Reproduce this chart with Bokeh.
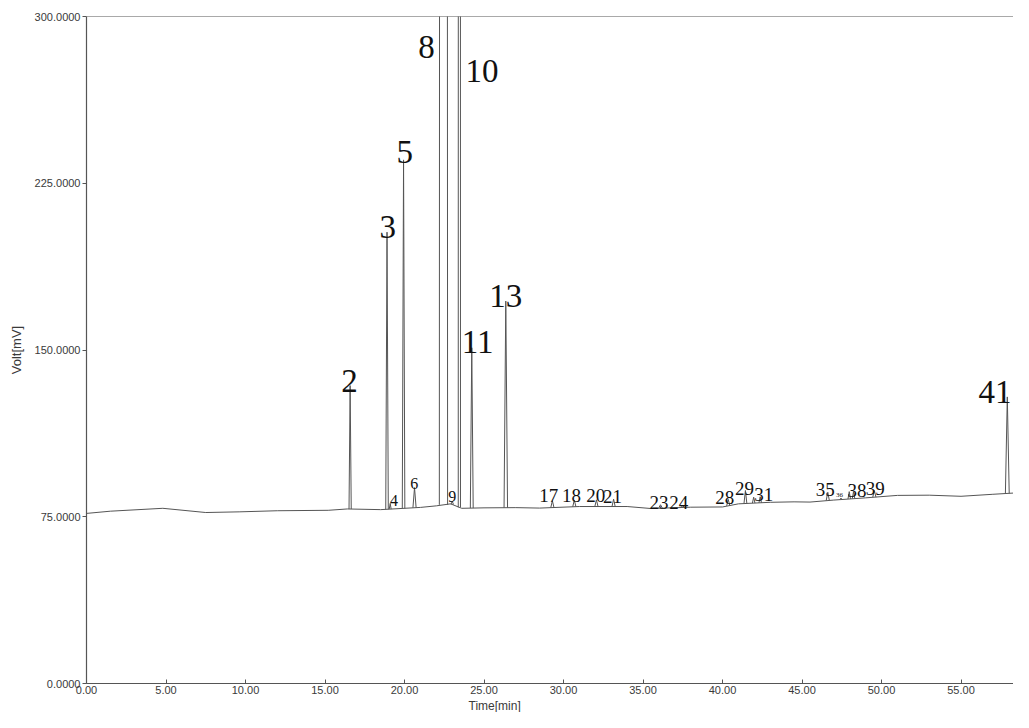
import numpy as np
from bokeh.plotting import figure
from bokeh.models import (Range1d, FixedTicker, PrintfTickFormatter, Span, ColumnDataSource,
                          Title)
from bokeh.core.properties import value
from bokeh.embed import file_html
from bokeh.resources import INLINE

# ---- data ----
base_time = [0, 1.5, 4.8, 7.5, 9.6, 12, 15.2, 16.4, 18.5, 21, 22, 22.9, 23.6, 25, 27, 28.5,
             31, 34, 35.5, 38, 40, 41, 43, 44.5, 45.5, 47, 49, 51, 53, 55, 57, 58.64]
base_volt = [76.5, 77.5, 78.8, 76.9, 77.2, 77.7, 77.9, 78.5, 78.2, 79.2, 79.9, 80.8, 78.8, 79.0,
             79.1, 78.9, 79.6, 79.6, 78.7, 79.3, 79.4, 80.8, 81.5, 81.7, 81.6, 82.5, 83.5, 84.6,
             84.7, 84.2, 85.1, 85.8]

peak_time = [16.58, 18.9, 19.1, 19.94, 20.63, 22.45, 23.0, 23.45, 24.23, 26.37, 29.3, 30.68,
             32.07, 33.15, 36.1, 37.5, 40.36, 41.44, 41.96, 42.37, 46.62, 47.45, 47.97, 48.24,
             49.55, 57.91]
peak_volt = [134, 203, 81, 235.5, 88.1, 5000, 82, 5000, 151, 172, 82.2, 82.5, 82.6, 82.9, 80.4,
             79.9, 82.8, 86.8, 83.8, 84, 86, 83.4, 86.3, 86.3, 86.8, 128.9]
peak_halfwidth = [0.07, 0.08, 0.06, 0.08, 0.1, 0.26, 0.08, 0.07, 0.09, 0.11, 0.1, 0.1, 0.1, 0.1,
                  0.12, 0.12, 0.1, 0.09, 0.08, 0.08, 0.1, 0.07, 0.08, 0.08, 0.1, 0.12]

label_text = ["2", "3", "4", "5", "6", "8", "9", "10", "11", "13", "17", "18", "20", "21", "23",
              "24", "28", "29", "31", "35", "36", "38", "39", "41"]
label_time = [16.54, 18.94, 19.34, 20.02, 20.62, 21.39, 23.01, 24.88, 24.6, 26.37, 29.07, 30.5,
              32.03, 33.08, 36.01, 37.25, 40.14, 41.39, 42.6, 46.46, 47.36, 48.45, 49.6, 57.14]
label_volt = [136.1, 205.5, 82.3, 238.9, 89.8, 286.2, 83.9, 275.6, 153.7, 174.2, 84.5, 84.5, 84.4,
              84.3, 81.3, 81.3, 83.7, 87.5, 84.8, 87.1, 84.9, 86.6, 87.7, 131.2]

x_ticks = [0, 5, 10, 15, 20, 25, 30, 35, 40, 45, 50, 55]
y_ticks = [0, 75, 150, 225, 300]

# ---- figure ----
p = figure(width=1013, height=712, output_backend="svg", toolbar_location=None,
           x_range=Range1d(0, 58.3), y_range=Range1d(0, 300),
           min_border_left=86, min_border_right=0, min_border_top=16, min_border_bottom=0)
p.outline_line_color = None
p.background_fill_color = "white"
p.border_fill_color = "white"
p.xgrid.visible = False
p.ygrid.visible = False

# baseline trace
p.line(base_time, base_volt, line_color="#555555", line_width=1.0)

# peaks as narrow spikes on the baseline
foot = np.interp(peak_time, base_time, base_volt)
xs = [[t - w, t, t + w] for t, w in zip(peak_time, peak_halfwidth)]
ys = [[b, h, b] for b, h in zip(foot, peak_volt)]
p.multi_line(xs, ys, line_color="#555555", line_width=1.0)

# top border
p.add_layout(Span(location=300, dimension="width", line_color="#555555", line_width=1.2))

# peak labels
big = {"2", "3", "5", "8", "10", "11", "13", "41"}
small = {"4", "6", "9"}
tiny = {"36"}
def size_of(s):
    if s in big:
        return "33px"
    if s in small:
        return "16px"
    if s in tiny:
        return "7px"
    return "19px"

src = ColumnDataSource(dict(x=label_time, y=label_volt, text=label_text,
                            size=[size_of(s) for s in label_text]))
p.text(x="x", y="y", text="text", source=src, text_font=value("Liberation Serif"),
       text_font_size="size", text_align="center", text_baseline="alphabetic",
       text_color="#111111")

# axes
for ax in (p.xaxis[0], p.yaxis[0]):
    ax.axis_line_color = "#555555"
    ax.axis_line_width = 1.2
    ax.major_tick_line_color = "#555555"
    ax.minor_tick_line_color = None
    ax.major_label_text_font = "Liberation Sans"
    ax.major_label_text_font_size = "11px"
    ax.major_label_text_color = "#3a3a3a"

p.xaxis.ticker = FixedTicker(ticks=x_ticks)
p.xaxis.formatter = PrintfTickFormatter(format="%.2f")
p.xaxis.major_tick_in = 4
p.xaxis.major_tick_out = 0
p.xaxis.major_label_standoff = 2

p.yaxis.ticker = FixedTicker(ticks=y_ticks)
p.yaxis.formatter = PrintfTickFormatter(format="%.4f")
p.yaxis.major_tick_in = 0
p.yaxis.major_tick_out = 4
p.yaxis.major_label_standoff = 2
p.yaxis.axis_label = "Volt[mV]"
p.yaxis.axis_label_text_font = "Liberation Sans"
p.yaxis.axis_label_text_font_size = "13px"
p.yaxis.axis_label_text_font_style = "normal"
p.yaxis.axis_label_text_color = "#3a3a3a"
p.yaxis.axis_label_standoff = 8

# x-axis title, placed left of the frame centre as in the reference
p.add_layout(Title(text="Time[min]", align="left", offset=382, standoff=0,
                   text_font="Liberation Sans", text_font_size="12px",
                   text_font_style="normal", text_color="#3a3a3a"), "below")

open("out.html", "w").write(file_html(p, INLINE))
